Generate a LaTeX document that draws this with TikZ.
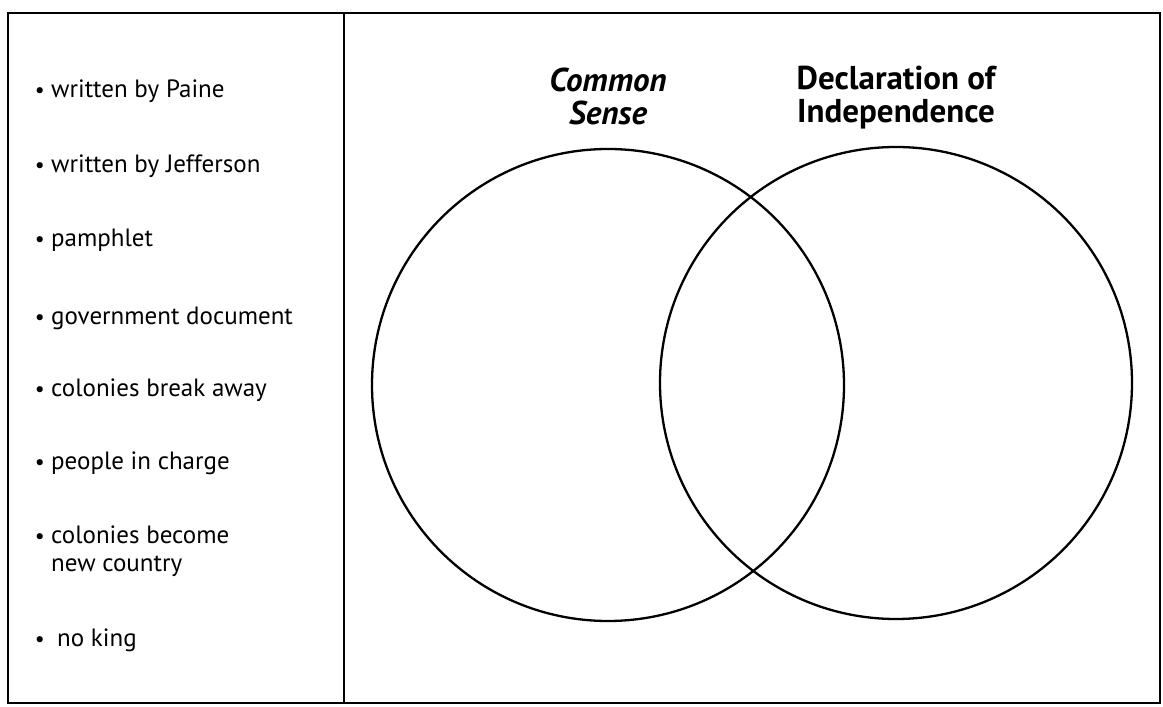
\documentclass[tikz,border=0pt]{standalone}
\usepackage{fontspec}
\setmainfont{PT Sans}
\usetikzlibrary{positioning}
\def\venn[#1](#2)(#3){\draw[#1] (#2) circle[radius=#3];}

\begin{document}
\begin{tikzpicture}[x=1pt, y=1pt,
		frame/.style={line width=2.6pt},
		ring/.style={line width=2.3pt},
		item/.style={anchor=base west, inner sep=0pt, align=left, font=\fontsize{25}{28}\selectfont},
		dot/.style={anchor=base east, inner sep=0pt, font=\fontsize{22}{28}\selectfont},
		head/.style={anchor=base, align=center, inner sep=0pt, font=\fontsize{33}{33}\selectfont\bfseries}]
		%%%%% START %%%%%
		\useasboundingbox (0, 0) rectangle (1163, 707);
		\draw[frame] (8, 4) rectangle (1160, 694);
		\draw[frame] (344, 694) -- (344, 4);
		
		\coordinate (sense) at (608, 322);
		\coordinate (decl) at (896, 324);
		\venn[ring](sense)(236pt)
		\venn[ring](decl)(236pt)
		
		\node[head, font=\fontsize{33}{33}\selectfont\bfseries\itshape] (common) at (608, 582) {Common\\Sense};
		\node[head] (declaration) at (896, 584) {Declaration of\\Independence};
		
		% text y = last line, bullet y = first line
		\foreach \txt/\xx/\yy/\by [count=\i] in {written by Paine/51/609/609, written by Jefferson/51/534/534,
			pamphlet/51/460/460, government document/51/382/382, colonies break away/51/310/310,
			people in charge/51/237/237, {colonies become\\new country}/51/135/163, no king/57/60/60}{
			\node[item] (item\i) at (\xx, \yy) {\txt};
			\node[dot] (bullet\i) at (45, \by) {\textbullet};
		}
		%%%%% END %%%%%
	\end{tikzpicture}
\end{document}
